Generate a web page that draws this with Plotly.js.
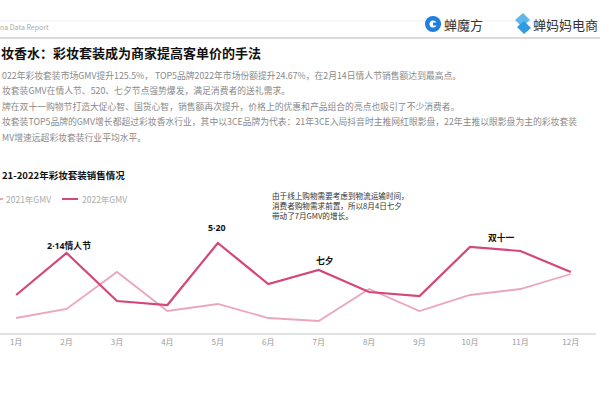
<!DOCTYPE html>
<html>
<head>
<meta charset="utf-8">
<script src="https://cdn.plot.ly/plotly-3.0.1.min.js"></script>
<style>html,body{margin:0;padding:0;background:#fff;}#chart{width:600px;height:400px;}</style>
</head>
<body>
<div id="chart"></div>
<script>
const months = ['1月','2月','3月','4月','5月','6月','7月','8月','9月','10月','11月','12月'];
const gmv2021 = [15, 24, 61, 22, 29, 15, 12, 44, 22, 38, 44, 59];
const gmv2022 = [38, 80, 32, 28, 90, 49, 63, 41, 37, 86, 82, 61];
const seriesNames = ['2021年GMV', '2022年GMV'];
const peakLabels = [
  {month: '2月', text: '2·14情人节'},
  {month: '5月', text: '5·20'},
  {month: '7月', text: '七夕'},
  {month: '10月', text: '双十一'}
];
const titleText = '妆香水：彩妆套装成为商家提高客单价的手法';
const bullets = [
  '022年彩妆套装市场GMV提升125.5%， TOP5品牌2022年市场份额提升24.67%，在2月14日情人节销售额达到最高点。',
  '妆套装GMV在情人节、520、七夕节点强势爆发，满足消费者的送礼需求。',
  '牌在双十一购物节打造大促心智、国货心智，销售额再次提升，价格上的优惠和产品组合的亮点也吸引了不少消费者。',
  '妆套装TOP5品牌的GMV增长都超过彩妆香水行业，其中以3CE品牌为代表：21年3CE入局抖音时主推网红眼影盘，22年主推以眼影盘为主的彩妆套装',
  'MV增速远超彩妆套装行业平均水平。'
];
const chartTitle = '21-2022年彩妆套装销售情况';
const noteText = '由于线上购物需要考虑到物流运输时间，<br>消费者购物需求前置，所以8月4日七夕<br>带动了7月GMV的增长。';
const sourceText = '来源：蝉魔方（蝉妈妈旗下行业研究数据平台）';

const C21 = '#eca6ba', C22 = '#d4477b';
const FONT = '"Noto Sans CJK SC", "Noto Sans", sans-serif';
const FONT_LAT = '"Noto Sans", "Noto Sans CJK SC", sans-serif';
const W = 596, B = 333;
const X = px => px / W;
const Y = py => B - py;

function txt(px, py, text, size, color, opts) {
  return Object.assign({
    xref: 'paper', yref: 'y', x: X(px), y: Y(py), text: text, showarrow: false,
    xanchor: 'left', yanchor: 'middle', align: 'left',
    font: {family: FONT, size: size, color: color}
  }, opts || {});
}

const annotations = [];
annotations.push(txt(-2, 27, 'na Data Report', 7, '#aaa'));
annotations.push(txt(442, 24, '蝉魔方', 13, '#333'));
annotations.push(txt(531, 24, '蝉妈妈电商', 13, '#333'));
annotations.push(txt(-1, 52, '<b>' + titleText + '</b>', 13, '#111'));
const bulletY = [75, 90, 106, 121, 137];
bullets.forEach((b, i) => annotations.push(txt(0, bulletY[i], b, 8.8, '#8a8a8a')));
annotations.push(txt(0, 175, '<b>' + chartTitle + '</b>', 9.5, '#111'));
annotations.push(txt(4, 199, seriesNames[0], 8.5, '#aaa'));
annotations.push(txt(80, 199, seriesNames[1], 8.5, '#aaa'));
annotations.push(txt(270, 205, noteText, 7.6, '#333', {yanchor: 'middle'}));
annotations.push(txt(0, 385, sourceText, 7.6, '#555'));
annotations.push(txt(522, 370, '知乎 @蝉魔', 21, '#c4c4c4'));

const peakPix = {'2月': [69, 246], '5月': [217, 228], '7月': [325, 261], '10月': [501, 238]};
peakLabels.forEach(p => {
  const pp = peakPix[p.month];
  annotations.push(txt(pp[0], pp[1], '<b>' + p.text + '</b>', 8.8, '#111', {xanchor: 'center', font: {family: FONT_LAT, size: 8.8, color: '#111'}}));
});

const shapes = [
  {type: 'line', xref: 'paper', yref: 'y', x0: X(0), x1: X(600), y0: Y(21), y1: Y(21), line: {color: '#f0f0f0', width: 1}},
  {type: 'line', xref: 'paper', yref: 'y', x0: X(0), x1: X(600), y0: Y(38), y1: Y(38), line: {color: '#b5b5b5', width: 1.2}},
  {type: 'line', xref: 'paper', yref: 'y', x0: X(-4), x1: X(3), y0: Y(199), y1: Y(199), line: {color: C21, width: 2}},
  {type: 'line', xref: 'paper', yref: 'y', x0: X(62), x1: X(78), y0: Y(199), y1: Y(199), line: {color: C22, width: 2}},
  {type: 'circle', xref: 'paper', yref: 'y', x0: X(425), x1: X(441), y0: Y(16), y1: Y(32), fillcolor: '#1e7fdc', line: {width: 0}},
  {type: 'circle', xref: 'paper', yref: 'y', x0: X(429.5), x1: X(436.5), y0: Y(20.5), y1: Y(27.5), fillcolor: '#ffffff', line: {width: 0}},
  {type: 'rect', xref: 'paper', yref: 'y', x0: X(433), x1: X(441), y0: Y(22.5), y1: Y(25.5), fillcolor: '#1e7fdc', line: {width: 0}},
  {type: 'path', xref: 'paper', yref: 'y',
   path: `M ${X(515)} ${Y(20)} L ${X(523)} ${Y(13)} L ${X(530)} ${Y(20)} L ${X(522)} ${Y(27)} Z`,
   fillcolor: '#5fb8ea', line: {width: 0}},
  {type: 'path', xref: 'paper', yref: 'y',
   path: `M ${X(517)} ${Y(27)} L ${X(524)} ${Y(21)} L ${X(531)} ${Y(28)} L ${X(524)} ${Y(34)} Z`,
   fillcolor: '#2f9be0', line: {width: 0}}
];

const traces = [
  {x: months, y: gmv2021, name: seriesNames[0], type: 'scatter', mode: 'lines', line: {color: C21, width: 1.8}},
  {x: months, y: gmv2022, name: seriesNames[1], type: 'scatter', mode: 'lines', line: {color: C22, width: 2.2}}
];

const layout = {
  width: 600, height: 400,
  margin: {l: 0, r: 4, t: 0, b: 67},
  paper_bgcolor: '#fff', plot_bgcolor: '#fff',
  showlegend: false,
  font: {family: FONT},
  xaxis: {
    type: 'category', range: [-0.32, 11.5], showgrid: false, zeroline: false,
    showline: true, linecolor: '#e2e2e2', linewidth: 2, ticks: '',
    tickfont: {family: FONT, size: 8, color: '#999'}, fixedrange: true
  },
  yaxis: {range: [0, 333], visible: false, showgrid: false, zeroline: false, fixedrange: true},
  annotations: annotations,
  shapes: shapes
};

Plotly.newPlot('chart', traces, layout, {displayModeBar: false, staticPlot: true});
</script>
</body>
</html>
